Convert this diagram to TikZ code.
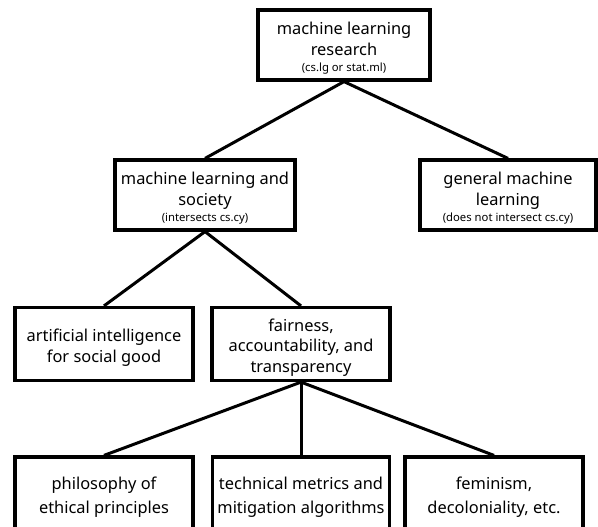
\documentclass[tikz,border=0pt]{standalone}
\usepackage{fontspec}
\setmainfont{Noto Sans}
\newcommand{\smalltxt}[1]{{\fontsize{11.3}{13}\selectfont #1}}
\begin{document}
\begin{tikzpicture}[x=1pt,y=-1pt,
  box/.style={draw, line width=3.2pt, inner sep=0pt},
  lbl/.style={align=center, inner sep=0pt, anchor=base,
    font=\fontsize{16.4}{20.5}\selectfont},
  conn/.style={line width=3pt}]
\useasboundingbox (0,0) rectangle (598,527);
\clip (0,0) rectangle (598,527);
% boxes
\node[box, minimum width=172pt, minimum height=70pt] (mlr) at (344,45) {};
\node[box, minimum width=180pt, minimum height=70pt] (mls) at (205,195) {};
\node[box, minimum width=176pt, minimum height=70pt] (gml) at (508,195) {};
\node[box, minimum width=178pt, minimum height=73pt] (ai) at (104,344) {};
\node[box, minimum width=178pt, minimum height=73pt] (fat) at (301,344) {};
\node[box, minimum width=178pt, minimum height=76pt] (phil) at (104,495) {};
\node[box, minimum width=177pt, minimum height=76pt] (tech) at (301,495) {};
\node[box, minimum width=178pt, minimum height=76pt] (fem) at (494,495) {};
% texts (anchored at the baseline of their last line)
\node[lbl] (mlrt) at (344,72)
  {machine learning\\research\\[-4pt]\smalltxt{(cs.lg or stat.ml)}};
\node[lbl] (mlst) at (205,222)
  {machine learning and\\society\\[-4pt]\smalltxt{(intersects cs.cy)}};
\node[lbl] (gmlt) at (508,222)
  {general machine\\learning\\[-4pt]\smalltxt{(does not intersect cs.cy)}};
\node[lbl] (ait) at (104,362)
  {artificial intelligence\\for social good};
\node[lbl] (fatt) at (301,372)
  {fairness,\\accountability, and\\transparency};
\node[lbl, font=\fontsize{16.4}{23.5}\selectfont] (philt) at (104,513)
  {philosophy of\\ethical principles};
\node[lbl, font=\fontsize{16.4}{23.5}\selectfont] (techt) at (301,513)
  {technical metrics and\\mitigation algorithms};
\node[lbl, font=\fontsize{16.4}{23.5}\selectfont] (femt) at (494,513)
  {feminism,\\decoloniality, etc.};
% connectors
\draw[conn] (mlr.south) -- (mls.north);
\draw[conn] (mlr.south) -- (gml.north);
\draw[conn] (mls.south) -- (ai.north);
\draw[conn] (mls.south) -- (fat.north);
\draw[conn] (fat.south) -- (phil.north);
\draw[conn] (fat.south) -- (tech.north);
\draw[conn] (fat.south) -- (fem.north);
\end{tikzpicture}
\end{document}
